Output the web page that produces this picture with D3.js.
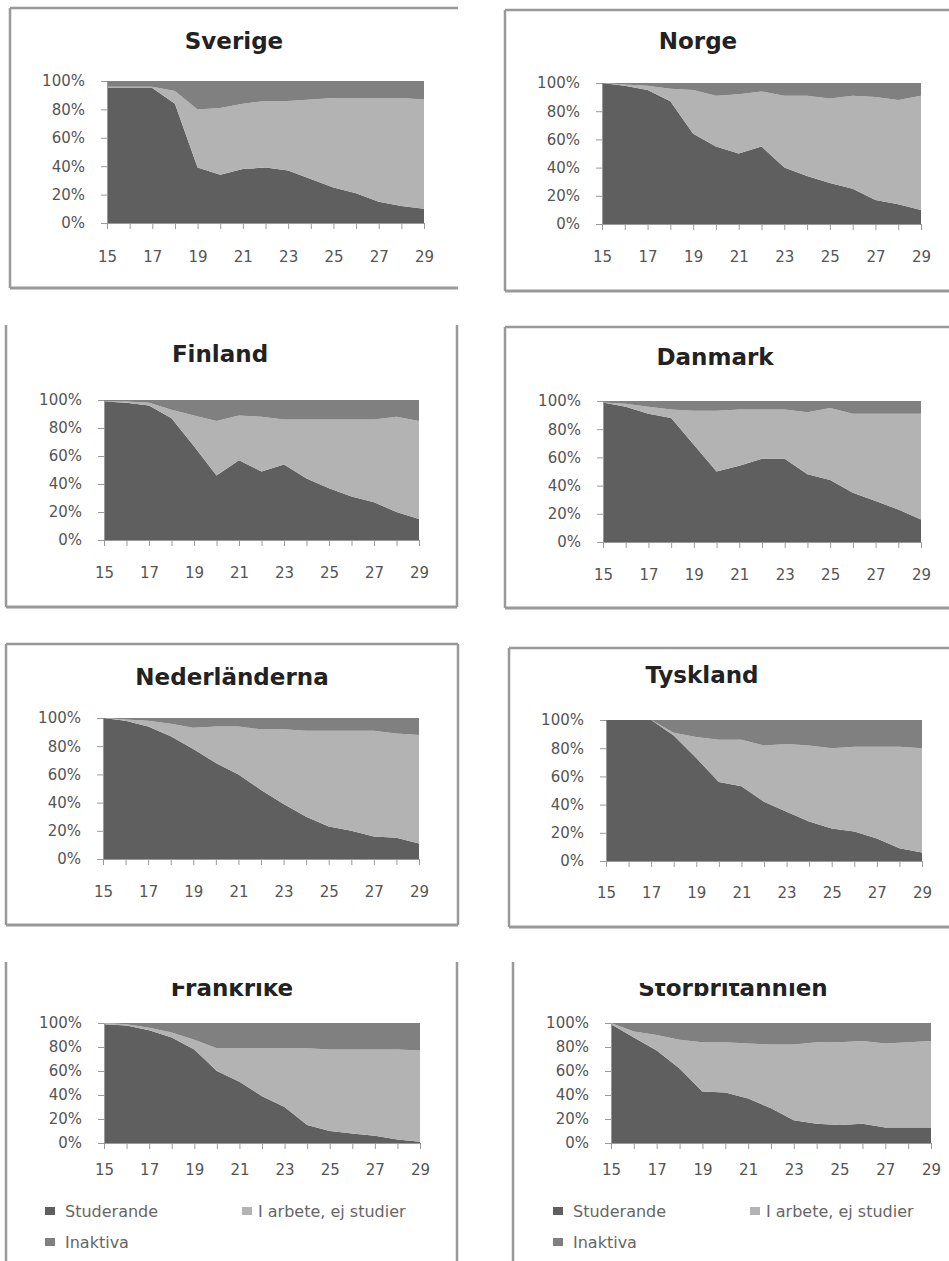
<!DOCTYPE html>
<html>
<head>
<meta charset="utf-8">
<script src="https://cdn.jsdelivr.net/npm/d3@7"></script>
<style>
  body { margin: 0; background: #fff; }
  svg { display: block; }
  .tick text { font-family: "DejaVu Sans", sans-serif; font-size: 15px; fill: #555; }
  .axis path, .axis line { stroke: #9a9a9a; }
  .title { font-family: "DejaVu Sans", sans-serif; font-weight: bold; font-size: 23px; fill: #222; }
  .legend text { font-family: "DejaVu Sans", sans-serif; font-size: 16px; fill: #666; }
</style>
</head>
<body>
<svg id="chart" width="949" height="1261"></svg>
<script>
// ages 15-29, share (%) per status
var ages = [15,16,17,18,19,20,21,22,23,24,25,26,27,28,29];
var keys = ["Studerande", "I arbete, ej studier", "Inaktiva"];

var sverigeStud  = [95,95,95,84,39,34,38,39,37,31,25,21,15,12,10];
var sverigeArb   = [1,1,1,9,41,47,46,47,49,56,63,67,73,76,77];
var sverigeInakt = [4,4,4,7,20,19,16,14,14,13,12,12,12,12,13];

var norgeStud  = [100,98,95,87,64,55,50,55,40,34,29,25,17,14,10];
var norgeArb   = [0,1,3,9,31,36,42,39,51,57,60,66,73,74,81];
var norgeInakt = [0,1,2,4,5,9,8,6,9,9,11,9,10,12,9];

var finlandStud  = [99,98,96,87,67,46,57,49,54,44,37,31,27,20,15];
var finlandArb   = [0,1,2,6,22,39,32,39,32,42,49,55,59,68,70];
var finlandInakt = [1,1,2,7,11,15,11,12,14,14,14,14,14,12,15];

var danmarkStud  = [99,96,91,88,69,50,54,59,59,48,44,35,29,23,16];
var danmarkArb   = [0,2,5,6,24,43,40,35,35,44,51,56,62,68,75];
var danmarkInakt = [1,2,4,6,7,7,6,6,6,8,5,9,9,9,9];

var nederlStud  = [100,98,94,87,78,68,60,49,39,30,23,20,16,15,11];
var nederlArb   = [0,1,4,9,15,26,34,43,53,61,68,71,75,74,77];
var nederlInakt = [0,1,2,4,7,6,6,8,8,9,9,9,9,11,12];

var tysklandStud  = [100,100,100,89,73,56,53,42,35,28,23,21,16,9,6];
var tysklandArb   = [0,0,0,2,15,30,33,40,48,54,57,60,65,72,74];
var tysklandInakt = [0,0,0,9,12,14,14,18,17,18,20,19,19,19,20];

var frankrikeStud  = [99,98,94,88,78,60,51,39,30,15,10,8,6,3,1];
var frankrikeArb   = [1,1,2,4,8,19,28,40,49,64,68,70,72,75,76];
var frankrikeInakt = [0,1,4,8,14,21,21,21,21,21,22,22,22,22,23];

var britStud  = [99,88,77,62,43,42,37,29,19,16,15,16,13,13,13];
var britArb   = [1,5,13,24,41,42,46,53,63,68,69,69,70,71,72];
var britInakt = [0,7,10,14,16,16,17,18,18,16,16,15,17,16,15];

var colors = ["#5f5f5f", "#b3b3b3", "#808080"];

// panel placement on the page
var panels = [
  {name: "Sverige", s: [sverigeStud, sverigeArb, sverigeInakt],
   x0: 107, x1: 424, y0: 81, y1: 223, tx: 234, ty: 49, pad: 22,
   frame: [10, 8, 458, 288, "ltb"]},
  {name: "Norge", s: [norgeStud, norgeArb, norgeInakt],
   x0: 602, x1: 921, y0: 83, y1: 224, tx: 698, ty: 49, pad: 21,
   frame: [505, 10, 949, 291, "ltb"]},
  {name: "Finland", s: [finlandStud, finlandArb, finlandInakt],
   x0: 104, x1: 419, y0: 400, y1: 540, tx: 220, ty: 362, pad: 21,
   frame: [6, 325, 457, 607, "lrb"]},
  {name: "Danmark", s: [danmarkStud, danmarkArb, danmarkInakt],
   x0: 603, x1: 921, y0: 401, y1: 542, tx: 715, ty: 365, pad: 21,
   frame: [505, 327, 949, 608, "ltb"]},
  {name: "Nederländerna", s: [nederlStud, nederlArb, nederlInakt],
   x0: 103, x1: 419, y0: 718, y1: 859, tx: 232, ty: 685, pad: 21,
   frame: [6, 644, 458, 925, "ltrb"]},
  {name: "Tyskland", s: [tysklandStud, tysklandArb, tysklandInakt],
   x0: 606, x1: 922, y0: 720, y1: 861, tx: 702, ty: 683, pad: 20,
   frame: [509, 648, 949, 927, "ltb"]},
  {name: "Frankrike", s: [frankrikeStud, frankrikeArb, frankrikeInakt],
   x0: 104, x1: 420, y0: 1023, y1: 1143, tx: 232, ty: 996, pad: 15, clip: 983,
   frame: [6, 962, 457, 1261, "lr"], legend: [45, 242, 1211, 1242]},
  {name: "Storbritannien", s: [britStud, britArb, britInakt],
   x0: 611, x1: 931, y0: 1023, y1: 1143, tx: 733, ty: 996, pad: 15, clip: 983,
   frame: [513, 962, 949, 1261, "l"], legend: [553, 750, 1211, 1242]}
];

var svg = d3.select("#chart");

svg.append("defs").append("clipPath")
    .attr("id", "titleclip")
  .append("rect")
    .attr("x", 0).attr("y", 983).attr("width", 949).attr("height", 100);

panels.forEach(function(p) {
    var g = svg.append("g");

    // frame
    var f = p.frame;
    var sides = {l: [f[0], f[1], f[0], f[3]], t: [f[0], f[1], f[2], f[1]],
                 r: [f[2], f[1], f[2], f[3]], b: [f[0], f[3], f[2], f[3]]};
    f[4].split("").forEach(function(k) {
        var c = sides[k];
        g.append("line")
            .attr("x1", c[0]).attr("y1", c[1]).attr("x2", c[2]).attr("y2", c[3])
            .attr("stroke", "#999")
            .attr("stroke-width", k == "b" ? 3 : 2.5);
    });

    var rows = ages.map(function(a, i) {
        var r = {age: a};
        keys.forEach(function(k, j) { r[k] = p.s[j][i]; });
        return r;
    });

    var stack = d3.stack().keys(keys).offset(d3.stackOffsetExpand);
    var layers = stack(rows);

    var x = d3.scaleLinear().domain([15, 29]).range([p.x0, p.x1]);
    var y = d3.scaleLinear().domain([0, 1]).range([p.y1, p.y0]);

    var area = d3.area()
        .x(function(d) { return x(d.data.age); })
        .y0(function(d) { return y(d[0]); })
        .y1(function(d) { return y(d[1]); });

    g.selectAll(".layer")
        .data(layers)
        .enter().append("path")
        .attr("class", "layer")
        .attr("fill", function(d, i) { return colors[i]; })
        .attr("d", area);

    g.append("g")
        .attr("class", "axis")
        .attr("transform", "translate(" + p.x0 + ",0)")
        .call(d3.axisLeft(y).tickValues([0, .2, .4, .6, .8, 1])
            .tickFormat(d3.format(".0%")).tickSize(6).tickSizeOuter(0).tickPadding(16));

    g.append("g")
        .attr("class", "axis")
        .attr("transform", "translate(0," + p.y1 + ")")
        .call(d3.axisBottom(x).tickValues(ages)
            .tickFormat(function(d) { return d % 2 ? d : ""; })
            .tickSize(6).tickSizeOuter(0).tickPadding(p.pad));

    var t = g.append("text")
        .attr("class", "title")
        .attr("x", p.tx)
        .attr("y", p.ty)
        .attr("text-anchor", "middle")
        .text(p.name);
    if (p.clip) t.attr("clip-path", "url(#titleclip)");

    if (p.legend) {
        var L = p.legend;
        var items = [[L[0], L[2]], [L[1], L[2]], [L[0], L[3]]];
        var lg = g.append("g").attr("class", "legend");
        keys.forEach(function(k, i) {
            lg.append("rect")
                .attr("x", items[i][0]).attr("y", items[i][1] - 4)
                .attr("width", 10).attr("height", 8)
                .attr("fill", colors[i]);
            lg.append("text")
                .attr("x", items[i][0] + (i == 1 ? 16 : 20))
                .attr("y", items[i][1] + 6)
                .text(k);
        });
    }
});
</script>
</body>
</html>
